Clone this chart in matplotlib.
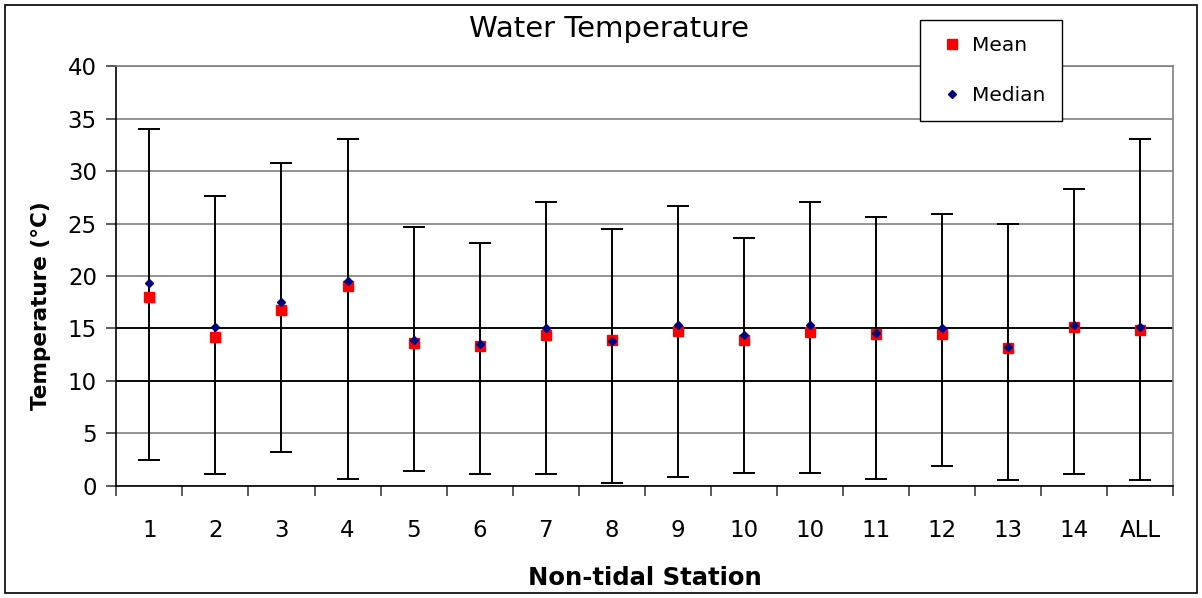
import matplotlib.pyplot as plt
from matplotlib.patches import Rectangle
import numpy as np

# station statistics (deg C)
stations = ['1', '2', '3', '4', '5', '6', '7', '8', '9', '10', '10', '11', '12', '13', '14', 'ALL']
mean_t = [18.0, 14.2, 16.8, 19.1, 13.6, 13.3, 14.4, 13.9, 14.8, 13.9, 14.7, 14.5, 14.5, 13.1, 15.1, 14.9]
median_t = [19.3, 15.1, 17.5, 19.5, 13.9, 13.5, 15.0, 13.8, 15.3, 14.4, 15.3, 14.6, 15.0, 13.2, 15.3, 15.1]
min_t = [2.45, 1.1, 3.25, 0.65, 1.4, 1.1, 1.1, 0.3, 0.8, 1.25, 1.25, 0.65, 1.85, 0.5, 1.1, 0.5]
max_t = [34.0, 27.6, 30.8, 33.1, 24.7, 23.2, 27.1, 24.5, 26.7, 23.6, 27.1, 25.6, 25.9, 25.0, 28.3, 33.1]

fig = plt.figure(figsize=(12.02, 5.98), dpi=100)
ax = fig.add_axes([0.0968, 0.1878, 0.8793, 0.7010])

x = np.arange(len(stations))
mean_a = np.array(mean_t)
yerr = [mean_a - np.array(min_t), np.array(max_t) - mean_a]

ax.set_axisbelow(True)
ax.grid(axis='y', color='#808080', linewidth=1.2)
ax.axhline(10, color='black', linewidth=1.3, zorder=0.6)
ax.axhline(15, color='black', linewidth=1.3, zorder=0.6)

ax.errorbar(x, mean_t, yerr=yerr, fmt='none', ecolor='black', elinewidth=1.4,
            capsize=8, capthick=1.4, zorder=2)
ax.plot(x, mean_t, 's', color='#ff0000', markersize=6.5, linestyle='none', label='Mean', zorder=3)
ax.plot(x, median_t, 'D', color='#000080', markersize=4.4, linestyle='none', label='Median', zorder=4)

ax.set_xlim(-0.5, len(stations) - 0.5)
ax.set_ylim(0, 40)
ax.set_yticks(np.arange(0, 41, 5))
ax.set_xticks(x)
ax.set_xticklabels(stations, fontsize=16.5)
ax.set_xticks(np.arange(-0.5, len(stations), 1), minor=True)
ax.tick_params(axis='x', which='major', length=0, pad=24)
ax.tick_params(axis='x', which='minor', length=7, width=1.2, color='#404040', direction='out')
ax.tick_params(axis='y', labelsize=16.5, length=7, width=1.2, color='#404040', pad=7)

for s in ['top', 'right']:
    ax.spines[s].set_color('#808080')
    ax.spines[s].set_linewidth(1.2)
for s in ['left', 'bottom']:
    ax.spines[s].set_color('black')
    ax.spines[s].set_linewidth(1.2)

ax.set_ylabel('Temperature (\u00b0C)', fontsize=15.5, fontweight='bold')
ax.yaxis.set_label_coords(-0.062, 0.43)
ax.set_xlabel('Non-tidal Station', fontsize=17.5, fontweight='bold', labelpad=17)
fig.text(0.5066, 0.952, 'Water Temperature', fontsize=21, ha='center', va='center')

leg = fig.legend(loc='upper left', bbox_to_anchor=(0.7654, 0.9666), fontsize=14.5,
                 frameon=True, fancybox=False, framealpha=1, edgecolor='black',
                 handlelength=1.6, handletextpad=0.2, labelspacing=1.55,
                 borderpad=0.8, borderaxespad=0)
leg.get_frame().set_linewidth(1.0)

# outer chart border
fig.patches.append(Rectangle((0.0042, 0.0084), 0.9917, 0.9833, transform=fig.transFigure,
                             fill=False, edgecolor='black', linewidth=1.2))

fig.savefig('out.png', dpi=100)
